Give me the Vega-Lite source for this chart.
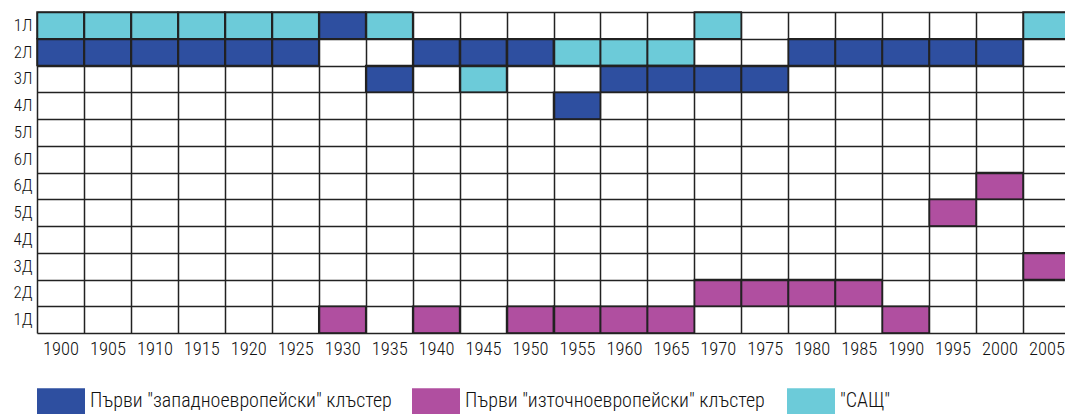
{
  "$schema": "https://vega.github.io/schema/vega-lite/v6.json",
  "width": 1028,
  "height": 321,
  "autosize": "none",
  "padding": {"left": 37, "top": 12, "right": 0, "bottom": 81},
  "background": "white",
  "config": {
    "font": "Roboto Condensed, sans-serif",
    "view": {"stroke": null},
    "axis": {
      "domain": false,
      "ticks": false,
      "grid": true,
      "tickBand": "extent",
      "gridColor": "#222",
      "gridWidth": 1.5,
      "gridOpacity": 1,
      "labelFont": "Roboto Condensed, sans-serif",
      "labelFontWeight": 300,
      "labelColor": "#111",
      "title": null
    }
  },
  "data": {
    "values": [
      {"year": 1900, "row": "1Л", "c": "\"САЩ\""},
      {"year": 1905, "row": "1Л", "c": "\"САЩ\""},
      {"year": 1910, "row": "1Л", "c": "\"САЩ\""},
      {"year": 1915, "row": "1Л", "c": "\"САЩ\""},
      {"year": 1920, "row": "1Л", "c": "\"САЩ\""},
      {"year": 1925, "row": "1Л", "c": "\"САЩ\""},
      {"year": 1930, "row": "1Л", "c": "Първи \"западноевропейски\" клъстер"},
      {"year": 1935, "row": "1Л", "c": "\"САЩ\""},
      {"year": 1970, "row": "1Л", "c": "\"САЩ\""},
      {"year": 2005, "row": "1Л", "c": "\"САЩ\""},
      {"year": 1900, "row": "2Л", "c": "Първи \"западноевропейски\" клъстер"},
      {"year": 1905, "row": "2Л", "c": "Първи \"западноевропейски\" клъстер"},
      {"year": 1910, "row": "2Л", "c": "Първи \"западноевропейски\" клъстер"},
      {"year": 1915, "row": "2Л", "c": "Първи \"западноевропейски\" клъстер"},
      {"year": 1920, "row": "2Л", "c": "Първи \"западноевропейски\" клъстер"},
      {"year": 1925, "row": "2Л", "c": "Първи \"западноевропейски\" клъстер"},
      {"year": 1940, "row": "2Л", "c": "Първи \"западноевропейски\" клъстер"},
      {"year": 1945, "row": "2Л", "c": "Първи \"западноевропейски\" клъстер"},
      {"year": 1950, "row": "2Л", "c": "Първи \"западноевропейски\" клъстер"},
      {"year": 1955, "row": "2Л", "c": "\"САЩ\""},
      {"year": 1960, "row": "2Л", "c": "\"САЩ\""},
      {"year": 1965, "row": "2Л", "c": "\"САЩ\""},
      {"year": 1980, "row": "2Л", "c": "Първи \"западноевропейски\" клъстер"},
      {"year": 1985, "row": "2Л", "c": "Първи \"западноевропейски\" клъстер"},
      {"year": 1990, "row": "2Л", "c": "Първи \"западноевропейски\" клъстер"},
      {"year": 1995, "row": "2Л", "c": "Първи \"западноевропейски\" клъстер"},
      {"year": 2000, "row": "2Л", "c": "Първи \"западноевропейски\" клъстер"},
      {"year": 1935, "row": "3Л", "c": "Първи \"западноевропейски\" клъстер"},
      {"year": 1945, "row": "3Л", "c": "\"САЩ\""},
      {"year": 1960, "row": "3Л", "c": "Първи \"западноевропейски\" клъстер"},
      {"year": 1965, "row": "3Л", "c": "Първи \"западноевропейски\" клъстер"},
      {"year": 1970, "row": "3Л", "c": "Първи \"западноевропейски\" клъстер"},
      {"year": 1975, "row": "3Л", "c": "Първи \"западноевропейски\" клъстер"},
      {"year": 1955, "row": "4Л", "c": "Първи \"западноевропейски\" клъстер"},
      {"year": 2000, "row": "6Д", "c": "Първи \"източноевропейски\" клъстер"},
      {"year": 1995, "row": "5Д", "c": "Първи \"източноевропейски\" клъстер"},
      {"year": 2005, "row": "3Д", "c": "Първи \"източноевропейски\" клъстер"},
      {"year": 1970, "row": "2Д", "c": "Първи \"източноевропейски\" клъстер"},
      {"year": 1975, "row": "2Д", "c": "Първи \"източноевропейски\" клъстер"},
      {"year": 1980, "row": "2Д", "c": "Първи \"източноевропейски\" клъстер"},
      {"year": 1985, "row": "2Д", "c": "Първи \"източноевропейски\" клъстер"},
      {"year": 1930, "row": "1Д", "c": "Първи \"източноевропейски\" клъстер"},
      {"year": 1940, "row": "1Д", "c": "Първи \"източноевропейски\" клъстер"},
      {"year": 1950, "row": "1Д", "c": "Първи \"източноевропейски\" клъстер"},
      {"year": 1955, "row": "1Д", "c": "Първи \"източноевропейски\" клъстер"},
      {"year": 1960, "row": "1Д", "c": "Първи \"източноевропейски\" клъстер"},
      {"year": 1965, "row": "1Д", "c": "Първи \"източноевропейски\" клъстер"},
      {"year": 1990, "row": "1Д", "c": "Първи \"източноевропейски\" клъстер"}
    ]
  },
  "mark": {"type": "rect", "stroke": "#222", "strokeWidth": 1.5},
  "encoding": {
    "x": {
      "field": "year",
      "type": "ordinal",
      "scale": {"domain": [1900, 1905, 1910, 1915, 1920, 1925, 1930, 1935, 1940, 1945, 1950, 1955, 1960, 1965, 1970, 1975, 1980, 1985, 1990, 1995, 2000, 2005], "range": [0, 1033], "paddingInner": 0, "paddingOuter": 0},
      "axis": {"orient": "bottom", "labelAngle": 0, "labelPadding": 6, "labelFontSize": 18.5}
    },
    "y": {
      "field": "row",
      "type": "ordinal",
      "scale": {"domain": ["1Л", "2Л", "3Л", "4Л", "5Л", "6Л", "6Д", "5Д", "4Д", "3Д", "2Д", "1Д"], "paddingInner": 0, "paddingOuter": 0},
      "axis": {"labelPadding": 5, "labelFontSize": 17}
    },
    "color": {
      "field": "c",
      "type": "nominal",
      "scale": {
        "domain": ["Първи \"западноевропейски\" клъстер", "Първи \"източноевропейски\" клъстер", "\"САЩ\""],
        "range": ["#2E4FA0", "#B04FA0", "#6CCBD9"]
      },
      "legend": {
        "title": null,
        "orient": "none",
        "legendX": 0,
        "legendY": 365,
        "direction": "horizontal",
        "columns": 3,
        "gridAlign": "all",
        "columnPadding": 20,
        "symbolType": "M-1,-0.55H1V0.55H-1Z",
        "symbolSize": 2304,
        "symbolStrokeWidth": 0,
        "symbolOpacity": 1,
        "labelFont": "Roboto Condensed, sans-serif",
        "labelFontSize": 20,
        "labelFontWeight": 300,
        "labelColor": "#111",
        "labelOffset": 5,
        "labelLimit": 400
      }
    }
  }
}
